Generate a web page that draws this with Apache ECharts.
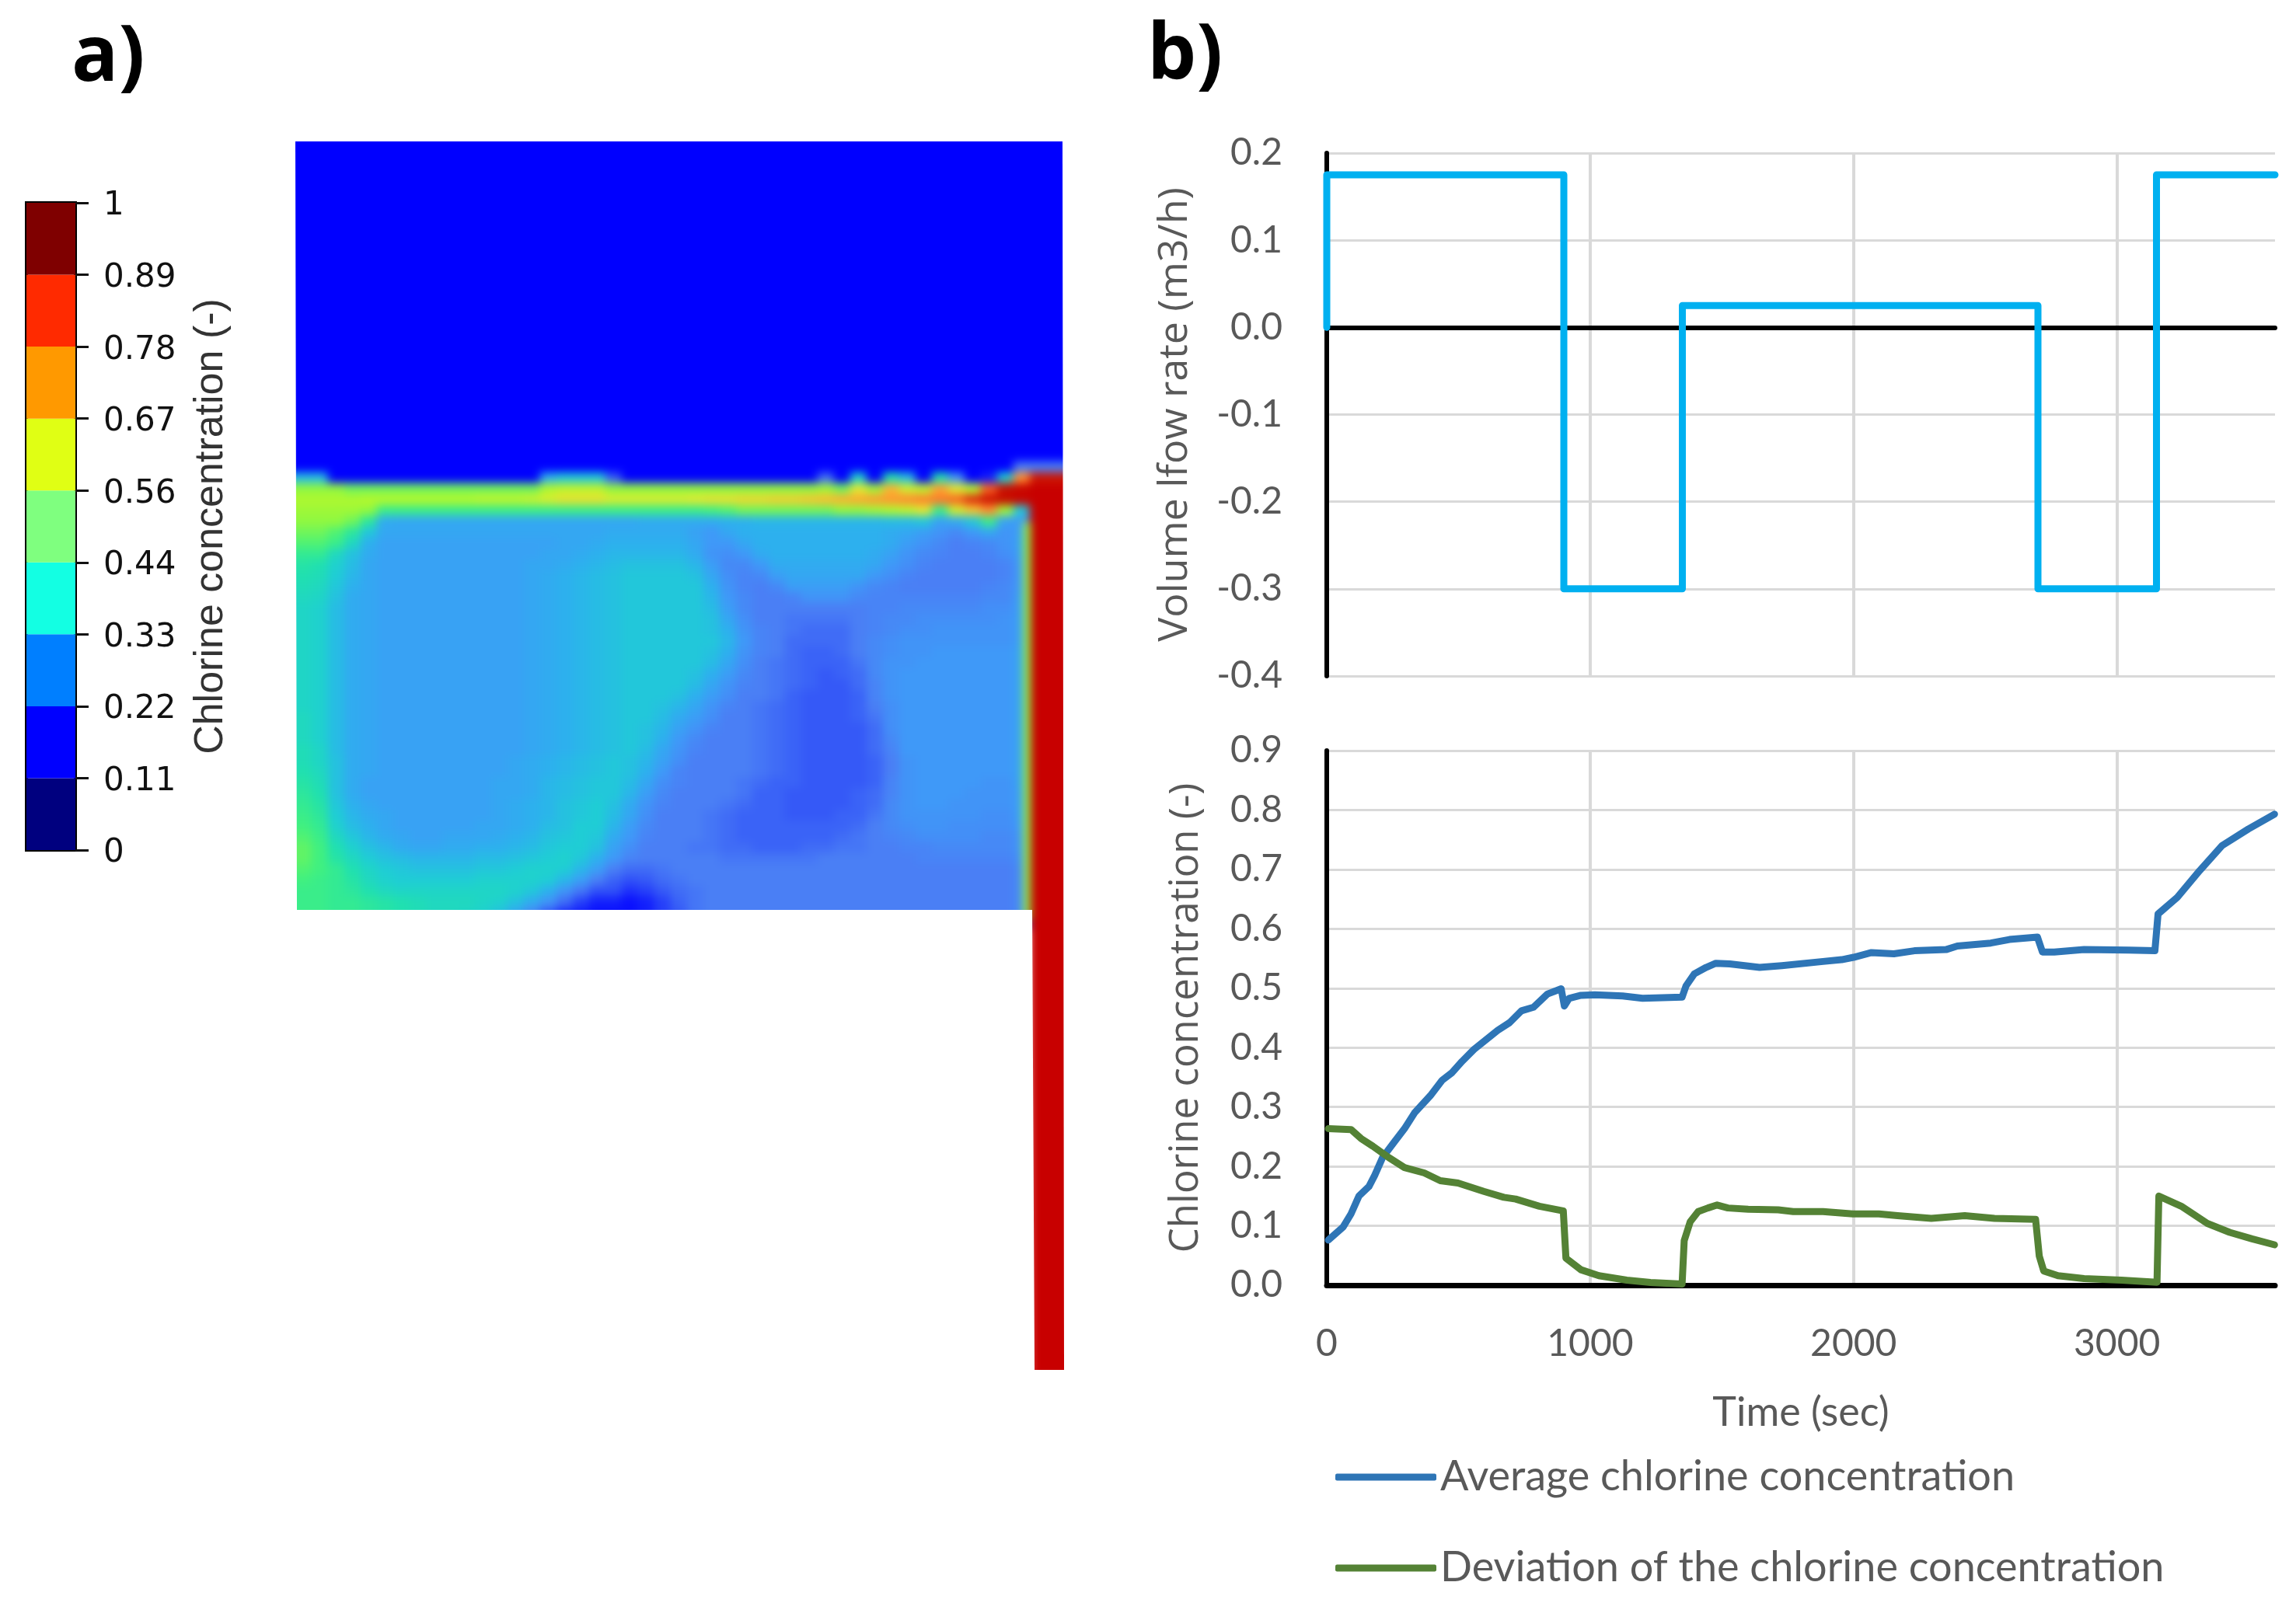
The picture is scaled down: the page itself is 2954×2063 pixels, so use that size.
<!DOCTYPE html>
<html>
<head>
<meta charset="utf-8">
<title>Chlorine concentration</title>
<script src="https://cdn.jsdelivr.net/npm/echarts@6/dist/echarts.min.js"></script>
<style>
html, body { margin: 0; padding: 0; background: #fff; }
#heatClip { position: absolute; left: 0; top: 0; width: 2954px; height: 2063px;
  clip-path: polygon(380px 182px, 1367px 182px, 1369px 1763px, 1331px 1763px, 1328px 1171px, 382px 1171px); }
#heatView { position: absolute; left: 0; top: 0; width: 2954px; height: 2063px; filter: blur(6px); }
#mainView { position: absolute; left: 0; top: 0; width: 2954px; height: 2063px; }
</style>
</head>
<body>
<div id="heatClip"><div id="heatView"></div></div>
<div id="mainView"></div>
<script>
// panel a: colour bar
var barTicks = ['0', '0.11', '0.22', '0.33', '0.44', '0.56', '0.67', '0.78', '0.89', '1'];
var barBands = [1, 1, 1, 1, 1, 1, 1, 1, 1];
var barColors = ['#00007f', '#0000ff', '#007fff', '#13ffe3', '#7fff7f', '#e0ff14', '#ff9900', '#ff2a00', '#7f0000'];

// panel a: concentration x100
var topValue = [10];
var pipeValue = [90];
var wallValue = [50];
var fieldRows = [
[10,10,10,10,10,10,10,10,10,10, 10,10,10,10,10,10,10,10,10,10, 10,10,10,10,10,10,10,10,10,10, 10,10,10,10,10,10,10,10,10,10, 10,10,10,10,10,10,10,10,10],
[10,10,10,10,10,10,10,10,10,10, 10,10,10,10,10,10,10,10,10,10, 10,10,10,10,10,10,10,10,10,10, 10,10,10,10,10,10,10,10,10,10, 10,10,10,10,10,20,20,20,20],
[32,32,32,10,10,10,10,10,10,10, 10,10,10,10,10,10,30,34,34,34, 16,10,10,10,10,10,10,10,10,10, 10,10,10,18,10,36,10,40,32,10, 40,24,10,12,36,70,84,84,84],
[50,50,50,50,48,48,48,48,48,48, 48,48,48,48,48,48,54,56,56,56, 50,50,50,50,50,50,50,50,50,50, 50,50,50,52,48,60,52,66,58,56, 68,60,55,75,85,88,90,90,90],
[54,54,54,54,54,55,55,55,55,55, 55,55,56,56,56,57,59,61,61,61, 59,59,59,59,59,60,61,61,62,62, 63,63,64,65,66,67,68,69,70,71, 72,74,80,84,86,88,90,90,90],
[52,52,52,52,52,50,44,44,44,44, 44,44,44,44,44,44,44,44,44,44, 44,44,44,44,44,44,45,46,48,48, 48,48,48,48,50,50,52,54,56,60, 44,58,64,70,52,34,90,90,90],
[50,50,50,50,48,42,29,28,28,28, 28,28,28,28,28,28,28,28,28,28, 28,28,29,29,29,29,29,30,30,31, 31,31,31,31,31,31,31,32,32,34, 27,29,34,44,27,25,90,90,90],
[48,48,48,46,42,34,28,28,28,28, 28,28,28,28,28,28,28,28,28,28, 29,29,29,29,29,27,25,28,30,30, 30,30,30,30,30,30,30,29,28,26, 24,22,25,28,24,26,90,90,90],
[46,46,46,44,38,30,27,27,27,27, 27,27,27,27,27,27,27,28,28,29, 30,30,30,30,30,28,25,25,28,30, 30,30,30,30,30,30,30,29,26,24, 22,20,21,22,24,27,90,90,90],
[43,43,43,38,33,29,27,27,27,27, 27,27,27,27,27,27,28,28,29,30, 31,31,31,31,31,29,24,23,25,29, 30,30,30,30,30,30,29,27,24,22, 21,20,20,21,23,26,90,90,90],
[41,41,40,36,32,28,27,27,27,27, 27,27,27,27,27,28,28,29,30,31, 32,33,33,33,33,31,26,22,22,25, 29,29,29,29,29,29,28,25,23,21, 20,20,20,20,21,25,90,90,90],
[40,40,39,35,31,28,27,27,27,27, 27,27,27,27,27,28,29,30,31,32, 33,34,34,34,34,33,28,23,21,22, 26,28,28,28,28,28,25,23,21,20, 20,20,20,20,21,25,90,90,90],
[39,39,38,34,30,28,27,27,27,27, 27,27,27,27,27,28,29,30,31,32, 33,34,34,34,34,34,30,24,21,20, 22,26,26,26,26,24,22,21,20,20, 20,20,20,21,22,25,90,90,90],
[38,38,37,33,29,28,27,27,27,27, 27,27,27,27,27,28,29,30,31,32, 33,34,34,34,34,34,31,25,22,20, 20,21,24,24,24,22,21,21,21,21, 21,21,21,22,22,26,90,90,90],
[37,37,36,32,29,28,27,27,27,27, 27,27,27,27,27,28,29,30,31,32, 33,34,34,34,34,34,32,26,22,20, 20,20,20,20,20,20,21,21,22,22, 22,22,22,23,23,26,90,90,90],
[37,37,36,32,29,28,27,27,27,27, 27,27,27,27,27,28,29,30,31,32, 33,34,34,34,34,34,33,28,23,20, 20,19,19,19,19,20,21,22,22,23, 23,23,23,23,24,26,90,90,90],
[37,37,36,32,29,28,27,27,27,27, 27,27,27,27,27,28,29,30,31,32, 33,34,34,34,34,34,33,30,24,21, 20,19,18,18,18,20,21,22,23,23, 24,24,24,24,24,26,90,90,90],
[37,37,36,32,29,28,27,27,27,27, 27,27,27,27,27,28,29,30,31,32, 33,34,34,34,34,34,34,31,25,21, 20,18,18,18,18,20,22,23,24,24, 24,24,24,24,24,26,90,90,90],
[37,37,36,32,29,28,27,27,27,27, 27,27,27,27,27,28,29,30,31,32, 33,34,34,34,34,34,33,30,24,21, 20,18,17,17,18,20,22,23,24,24, 25,25,25,25,25,27,90,90,90],
[37,37,36,32,29,28,27,27,27,27, 27,27,27,27,27,28,29,30,31,32, 33,34,34,34,34,34,32,28,23,20, 19,18,17,17,17,19,22,24,24,25, 25,25,25,25,25,27,90,90,90],
[37,37,36,32,29,28,27,27,27,27, 27,27,27,27,27,28,29,30,31,32, 33,34,34,34,34,33,30,26,22,20, 19,18,17,16,17,18,22,24,25,25, 25,25,25,25,25,27,90,90,90],
[37,37,36,32,29,28,27,27,27,27, 27,27,27,27,27,28,29,30,31,32, 33,34,34,34,34,32,28,24,21,20, 19,18,17,16,16,18,21,24,25,25, 25,25,25,25,25,27,90,90,90],
[37,37,36,32,29,28,27,27,27,27, 27,27,27,27,27,28,29,30,31,32, 33,34,34,34,33,30,26,23,20,20, 19,17,16,16,16,17,21,24,25,25, 25,25,25,25,25,27,90,90,90],
[37,37,36,32,29,28,27,27,27,27, 27,27,27,27,27,28,29,30,31,32, 33,34,34,33,31,28,24,21,20,19, 18,17,16,16,16,17,20,23,25,25, 25,25,25,25,25,27,90,90,90],
[38,38,36,32,29,28,27,27,27,27, 27,27,27,27,27,28,29,30,31,32, 33,34,34,32,29,26,23,20,20,19, 18,17,16,16,16,17,19,23,25,25, 25,25,25,25,25,27,90,90,90],
[38,38,36,32,29,28,27,27,27,27, 27,27,27,27,27,28,29,30,31,32, 33,34,33,31,27,24,21,20,20,19, 18,17,16,16,16,16,18,23,25,25, 25,25,25,25,25,27,90,90,90],
[38,38,36,32,29,28,27,27,27,27, 27,27,27,27,27,28,29,30,31,32, 33,34,33,30,25,22,20,20,20,19, 18,17,16,16,16,16,18,22,25,25, 25,25,25,25,25,27,90,90,90],
[39,39,37,32,29,28,27,27,27,27, 27,27,27,27,27,28,29,30,31,32, 33,34,32,28,24,21,20,20,20,19, 18,17,16,16,16,16,18,21,25,25, 25,25,25,25,25,27,90,90,90],
[39,39,37,33,29,28,27,27,27,27, 27,27,27,27,28,29,30,31,32,33, 34,33,31,27,23,20,20,20,20,19, 18,17,16,16,16,16,17,20,24,25, 25,25,25,25,25,27,90,90,90],
[40,40,38,33,29,28,27,27,27,27, 27,27,27,27,28,29,30,31,32,33, 34,33,30,25,21,20,20,20,20,19, 18,17,16,16,16,16,17,20,24,25, 25,25,25,25,25,27,90,90,90],
[41,41,39,33,29,27,27,27,27,27, 27,27,27,28,28,29,31,32,33,34, 34,32,28,23,21,20,20,20,19,18, 17,17,16,16,16,16,17,21,24,25, 25,25,25,24,24,27,90,90,90],
[42,42,40,33,29,27,27,27,27,27, 27,27,27,28,28,29,31,32,33,34, 34,31,26,22,20,20,20,20,19,17, 17,16,16,16,16,17,18,21,24,25, 25,25,24,24,24,26,90,90,90],
[43,43,41,34,30,28,27,27,27,27, 27,27,27,28,29,30,31,33,34,35, 33,29,24,21,20,20,20,19,18,17, 17,16,16,16,16,17,18,22,24,25, 25,24,24,24,24,26,90,90,90],
[44,44,42,35,31,29,28,27,27,27, 27,27,27,28,29,30,31,33,34,35, 32,28,23,20,20,20,19,18,17,17, 17,16,16,16,17,17,19,22,24,24, 24,24,24,23,23,26,90,90,90],
[45,45,43,36,32,30,28,27,27,27, 27,27,28,28,29,30,32,33,35,35, 31,26,22,20,20,20,19,18,17,17, 17,17,17,17,17,18,20,22,23,24, 24,23,23,23,23,25,90,90,90],
[46,46,44,38,34,31,29,28,27,27, 28,28,28,29,30,31,33,34,35,34, 29,25,21,20,20,20,19,18,17,17, 17,17,17,17,18,19,20,21,22,23, 23,23,23,22,22,24,90,90,90],
[47,47,45,40,36,33,31,29,28,28, 29,29,30,30,31,32,34,35,35,33, 27,23,20,20,20,19,19,18,18,17, 17,17,18,18,19,19,20,20,21,21, 22,22,22,22,22,24,90,90,90],
[47,47,45,41,38,35,33,32,31,31, 31,31,32,32,33,34,35,36,34,30, 25,21,20,20,20,20,20,19,19,19, 19,19,19,20,20,20,20,20,20,21, 21,21,21,21,21,23,90,90,90],
[46,46,45,43,40,37,35,34,33,33, 33,33,34,34,35,36,36,35,31,26, 20,18,18,19,20,20,20,20,20,20, 20,20,20,20,20,20,20,20,20,20, 20,20,20,20,20,22,90,90,90],
[45,45,44,43,41,38,36,35,35,35, 35,35,36,36,36,36,35,31,26,20, 17,15,16,18,19,20,20,20,20,20, 20,20,20,20,20,20,20,20,20,20, 20,20,20,20,20,22,90,90,90],
[44,44,44,43,42,40,38,37,37,37, 37,37,37,37,36,34,30,24,19,15, 15,13,14,16,18,19,20,20,20,20, 20,20,20,20,20,20,20,20,20,20, 20,20,20,20,20,22,90,90,90],
[44,44,44,43,43,42,41,40,39,38, 38,38,37,36,33,29,24,18,14,12, 12,11,12,14,17,19,20,20,20,20, 20,20,20,20,20,20,20,20,20,20, 20,20,20,20,20,22,90,90,90],
[44,44,44,43,43,42,41,40,39,38, 38,37,36,33,28,22,16,13,12,11, 11,11,12,14,16,19,20,20,20,20, 20,20,20,20,20,20,20,20,20,20, 20,20,20,20,20,22,90,90,90],
[44,44,44,43,43,42,41,40,39,38, 38,37,36,33,28,22,16,13,12,11, 11,11,12,14,16,19,20,20,20,20, 20,20,20,20,20,20,20,20,20,20, 20,20,20,20,20,22,90,90,90]
];
var fieldColors = ['#0000ff', '#3050f8', '#4a7ff5', '#3f99f8', '#2db0ee', '#1fcdd5', '#20e0b0', '#40f080', '#90f840',
    '#b4f82c', '#e0ea30', '#f8c030', '#ff9030', '#f86020', '#e03010', '#c81000', '#c80000', '#c80000', '#c80000'];

// panel b: volume flow rate
var flowTime = [0, 0, 900, 900, 1350, 1350, 2700, 2700, 3150, 3150, 3600];
var flowRate = [0, 0.175, 0.175, -0.3, -0.3, 0.025, 0.025, -0.3, -0.3, 0.175, 0.175];

// panel b: average chlorine concentration
var avgTime = [6, 62, 92, 122, 160, 182, 212, 250, 295, 333, 393, 438, 476, 514, 559, 604, 649, 694, 739, 785, 837, 890, 902, 920, 965, 1018, 1123, 1199, 1349, 1364, 1395, 1440, 1477, 1530, 1643, 1728, 1884, 1955, 2000, 2068, 2153, 2231, 2351, 2394, 2521, 2592, 2698, 2717, 2762, 2875, 3045, 3144, 3156, 3229, 3314, 3399, 3499, 3598];
var avgConc = [0.076, 0.098, 0.12, 0.15, 0.166, 0.185, 0.215, 0.2375, 0.2635, 0.29, 0.319, 0.345, 0.358, 0.377, 0.397, 0.413, 0.429, 0.442, 0.462, 0.468, 0.49, 0.499, 0.47, 0.483, 0.488, 0.489, 0.487, 0.483, 0.485, 0.504, 0.524, 0.535, 0.542, 0.541, 0.535, 0.538, 0.545, 0.548, 0.552, 0.56, 0.558, 0.563, 0.565, 0.571, 0.576, 0.582, 0.586, 0.561, 0.561, 0.565, 0.564, 0.563, 0.625, 0.653, 0.698, 0.74, 0.768, 0.793];

// panel b: deviation of the chlorine concentration
var devTime = [6, 92, 130, 175, 235, 295, 370, 431, 498, 596, 672, 717, 807, 898, 908, 965, 1033, 1139, 1229, 1349, 1357, 1380, 1410, 1447, 1482, 1523, 1600, 1714, 1771, 1884, 1997, 2096, 2167, 2295, 2422, 2535, 2691, 2705, 2722, 2776, 2875, 3017, 3152, 3159, 3244, 3343, 3428, 3513, 3598];
var devConc = [0.2635, 0.262, 0.247, 0.234, 0.215, 0.198, 0.189, 0.176, 0.172, 0.158, 0.148, 0.145, 0.133, 0.125, 0.0455, 0.026, 0.016, 0.0085, 0.0045, 0.002, 0.075, 0.107, 0.124, 0.13, 0.135, 0.13, 0.128, 0.127, 0.124, 0.124, 0.12, 0.12, 0.117, 0.1125, 0.117, 0.1125, 0.111, 0.049, 0.024, 0.016, 0.011, 0.0085, 0.005, 0.15, 0.133, 0.104, 0.089, 0.078, 0.068];

var tickFont = 'Lato';
var nameFont = 'Open Sans';
var textGrey = '#595959';
var gridGrey = '#d9d9d9';

function zip(xs, ys) {
    return xs.map(function (x, i) { return [x, ys[i]]; });
}

function fieldCells() {
    var cells = [];
    fieldRows.forEach(function (row, r) {
        row.forEach(function (v, c) { cells.push([c, r, v]); });
    });
    return cells;
}

function hiddenCat(data, gridIndex, inverse) {
    return { type: 'category', data: data, gridIndex: gridIndex, show: false, inverse: !!inverse };
}

function heatSeries(index, cells) {
    return {
        type: 'heatmap', xAxisIndex: index, yAxisIndex: index, data: cells,
        animation: false, progressive: 0, silent: true, z: index
    };
}

function drawHeat() {
    var chart = echarts.init(document.getElementById('heatView'));
    var cols = fieldRows[0].map(function (v, i) { return i; });
    var rows = fieldRows.map(function (v, i) { return i; });
    chart.setOption({
        animation: false,
        visualMap: { show: false, type: 'continuous', min: 10, max: 100, inRange: { color: fieldColors } },
        grid: [
            { left: 359, top: 160, width: 1029, height: 430 },
            { left: 1325, top: 1160, width: 63, height: 630 },
            { left: 359, top: 580, width: 1029, height: 616 },
            { left: 1317, top: 672, width: 9, height: 510 }
        ],
        xAxis: [hiddenCat(['top'], 0), hiddenCat(['pipe'], 1), hiddenCat(cols, 2), hiddenCat(['wall'], 3)],
        yAxis: [hiddenCat(['top'], 0), hiddenCat(['pipe'], 1), hiddenCat(rows, 2, true), hiddenCat(['wall'], 3)],
        series: [
            heatSeries(0, [[0, 0, topValue[0]]]),
            heatSeries(1, [[0, 0, pipeValue[0]]]),
            heatSeries(2, fieldCells()),
            heatSeries(3, [[0, 0, wallValue[0]]])
        ]
    });
}

function timeAxis(gridIndex, showLabels, lineWidth) {
    return {
        type: 'value', gridIndex: gridIndex, min: 0, max: 3600, interval: 1000,
        axisLine: { show: true, onZero: true, lineStyle: { color: '#000', width: lineWidth } },
        axisTick: { show: false },
        splitLine: { show: true, showMaxLine: false, showMinLine: false, lineStyle: { color: gridGrey, width: 4 } },
        axisLabel: {
            show: showLabels, showMaxLabel: false, margin: 52,
            fontFamily: tickFont, fontSize: 48, color: textGrey,
            formatter: function (v) { return String(v); }
        }
    };
}

function valueAxis(gridIndex, min, max, name, gap, nameSize) {
    return {
        type: 'value', gridIndex: gridIndex, min: min, max: max, interval: 0.1,
        name: name, nameLocation: 'middle', nameGap: gap, nameRotate: 90,
        nameTextStyle: { fontFamily: nameFont, fontSize: nameSize, color: textGrey },
        axisLine: { show: true, onZero: false, lineStyle: { color: '#000', width: 6 } },
        axisTick: { show: false },
        splitLine: { show: true, lineStyle: { color: gridGrey, width: 3 } },
        axisLabel: {
            margin: 57, fontFamily: tickFont, fontSize: 48, color: textGrey,
            formatter: function (v) { return v.toFixed(1); }
        }
    };
}

function lineSeries(name, gridIndex, data, color, width) {
    return {
        name: name, type: 'line', xAxisIndex: gridIndex, yAxisIndex: gridIndex, data: data,
        showSymbol: false, clip: false, animation: false, z: 5,
        lineStyle: { color: color, width: width, cap: 'round', join: 'round' },
        itemStyle: { color: color }
    };
}

function drawMain() {
    var chart = echarts.init(document.getElementById('mainView'));
    var bandSeries = barBands.map(function (v, i) {
        return {
            type: 'bar', stack: 'bar', xAxisIndex: 0, yAxisIndex: 0, data: [v], barWidth: '100%',
            itemStyle: { color: barColors[i] }, silent: true, animation: false
        };
    });
    chart.setOption({
        animation: false,
        backgroundColor: 'transparent',
        grid: [
            { left: 34, top: 261, width: 63, height: 833, show: true, borderColor: '#000', borderWidth: 4, backgroundColor: 'transparent' },
            { left: 1707, top: 197, width: 1220, height: 673 },
            { left: 1707, top: 966, width: 1220, height: 688 }
        ],
        xAxis: [
            { type: 'category', gridIndex: 0, data: ['bar'], show: false },
            timeAxis(1, false, 6),
            Object.assign(timeAxis(2, true, 7), {
                name: 'Time (sec)', nameLocation: 'middle', nameGap: 138,
                nameTextStyle: { fontFamily: tickFont, fontSize: 52, color: textGrey }
            })
        ],
        yAxis: [
            {
                type: 'value', gridIndex: 0, position: 'right', min: 0, max: 9, interval: 1,
                name: 'Chlorine concentration (-)', nameLocation: 'middle', nameGap: 149, nameRotate: 90,
                nameTextStyle: { fontFamily: 'Liberation Sans', fontSize: 52, color: '#333' },
                axisLine: { show: false },
                axisTick: { show: true, length: 17, lineStyle: { color: '#111', width: 3 } },
                splitLine: { show: false },
                axisLabel: {
                    margin: 36, color: '#111',
                    formatter: function (v) { return '{t|' + barTicks[v] + '}'; },
                    rich: { t: { fontFamily: 'DejaVu Sans', fontSize: 42, color: '#111', padding: [9, 0, 0, 0] } }
                }
            },
            valueAxis(1, -0.4, 0.2, 'Volume lfow rate (m3/h)', 169, 52),
            valueAxis(2, 0, 0.9, 'Chlorine concentration (-)', 155, 51)
        ],
        legend: {
            orient: 'vertical', left: 1713, top: 1869, itemGap: 63, itemWidth: 130, itemHeight: 9,
            icon: 'roundRect', selectedMode: false,
            textStyle: { fontFamily: tickFont, fontSize: 54, color: textGrey },
            data: ['Average chlorine concentration', 'Deviation of the chlorine concentration']
        },
        graphic: [
            { type: 'text', left: 92, top: 26, style: { text: 'a)', font: 'bold 100px "Open Sans"', fill: '#000' } },
            { type: 'text', left: 1476, top: 24, style: { text: 'b)', font: 'bold 100px "Open Sans"', fill: '#000' } }
        ],
        series: bandSeries.concat([
            lineSeries('Volume flow rate', 1, zip(flowTime, flowRate), '#00b0f0', 9),
            lineSeries('Average chlorine concentration', 2, zip(avgTime, avgConc), '#2e75b6', 9),
            lineSeries('Deviation of the chlorine concentration', 2, zip(devTime, devConc), '#548235', 9)
        ])
    });
}

drawHeat();
drawMain();
</script>
</body>
</html>
